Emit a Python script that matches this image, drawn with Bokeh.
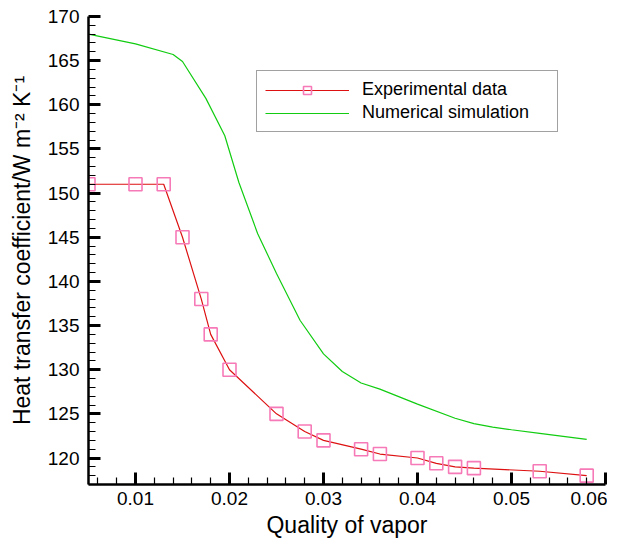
from bokeh.plotting import figure
from bokeh.embed import file_html
from bokeh.resources import INLINE
from bokeh.models import Range1d, FixedTicker, Legend, LegendItem

# Experimental data
exp_x = [0.005, 0.010, 0.013, 0.015, 0.017, 0.018, 0.020, 0.025, 0.028, 0.030,
         0.034, 0.036, 0.040, 0.042, 0.044, 0.046, 0.053, 0.058]
exp_y = [151.0, 151.0, 151.0, 145.0, 138.0, 134.0, 130.0, 125.0, 123.0, 122.0,
         121.0, 120.45, 120.0, 119.4, 119.0, 118.85, 118.5, 118.0]

# Numerical simulation
sim_x = [0.005, 0.010, 0.014, 0.015, 0.0175, 0.0195, 0.021, 0.023, 0.025, 0.0275,
         0.030, 0.032, 0.034, 0.036, 0.040, 0.044, 0.046, 0.048, 0.050, 0.053, 0.058]
sim_y = [168.0, 166.9, 165.7, 164.9, 160.7, 156.5, 151.2, 145.4, 140.9, 135.6,
         131.8, 129.8, 128.5, 127.8, 126.1, 124.5, 123.9, 123.5, 123.2, 122.8, 122.1]

x_ticks = [0.01, 0.02, 0.03, 0.04, 0.05, 0.06]
x_minor = [0.006, 0.008, 0.012, 0.014, 0.016, 0.018, 0.022, 0.024, 0.026, 0.028,
           0.032, 0.034, 0.036, 0.038, 0.042, 0.044, 0.046, 0.048, 0.052, 0.054,
           0.056, 0.058]
y_ticks = [120, 125, 130, 135, 140, 145, 150, 155, 160, 165, 170]
y_minor = [v for v in range(117, 171) if v % 5 != 0]

X0, X1 = 0.005, 0.06
Y0, Y1 = 117, 170

p = figure(width=607, height=540, output_backend="svg", toolbar_location=None,
           x_range=Range1d(X0, X1), y_range=Range1d(Y0, Y1),
           min_border_left=88, min_border_right=2, min_border_top=16,
           min_border_bottom=54)
p.outline_line_color = None
p.xgrid.visible = False
p.ygrid.visible = False

for ax, ticks, minor in ((p.xaxis[0], x_ticks, x_minor), (p.yaxis[0], y_ticks, y_minor)):
    ax.ticker = FixedTicker(ticks=ticks, minor_ticks=minor)
    ax.axis_line_color = "black"
    ax.axis_line_width = 2.5
    ax.major_tick_in = 12
    ax.major_tick_out = 0
    ax.major_tick_line_width = 3
    ax.major_tick_line_color = "black"
    ax.minor_tick_in = 7
    ax.minor_tick_out = 0
    ax.minor_tick_line_width = 1.2
    ax.minor_tick_line_color = "black"
    ax.major_label_text_font_size = "19px"
    ax.major_label_text_color = "black"
    ax.axis_label_text_font_size = "23px"
    ax.axis_label_text_font_style = "normal"
    ax.axis_label_text_color = "black"

p.xaxis[0].major_label_standoff = 7
p.yaxis[0].major_label_standoff = 9
p.xaxis[0].axis_label = "Quality of vapor"
p.xaxis[0].axis_label_standoff = 4
p.yaxis[0].axis_label = "Heat transfer coefficient/W m\u207b\u00b2 K\u207b\u00b9"
p.yaxis[0].axis_label_standoff = 10

r_exp_line = p.line(exp_x, exp_y, line_color="#dd1111", line_width=1.2)
r_exp_pts = p.scatter(exp_x, exp_y, marker="square", size=13,
                      fill_color="white", fill_alpha=0,
                      line_color="#f77ab8", line_width=1.6)
r_sim = p.line(sim_x, sim_y, line_color="#11cc11", line_width=1.2)

legend = Legend(items=[
    LegendItem(label="Experimental data", renderers=[r_exp_line, r_exp_pts]),
    LegendItem(label="Numerical simulation", renderers=[r_sim]),
], location=(168, 352))
legend.label_text_font_size = "18px"
legend.label_text_color = "black"
legend.glyph_width = 84
legend.glyph_height = 20
legend.label_height = 20
legend.label_standoff = 13
legend.label_width = 187
legend.spacing = 2
legend.padding = 8
legend.border_line_color = "#444444"
legend.border_line_width = 1.5
p.add_layout(legend)

open("out.html", "w").write(file_html(p, INLINE))
